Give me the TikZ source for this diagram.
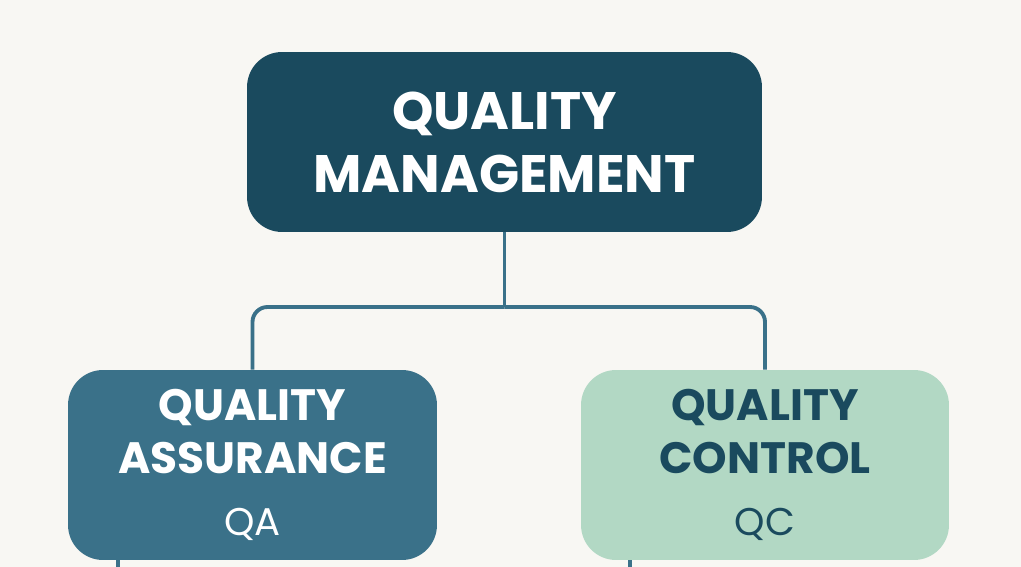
\documentclass[tikz,border=0pt]{standalone}
\usepackage{fontspec}
\setmainfont{Poppins}
\usetikzlibrary{positioning}
\definecolor{deepteal}{HTML}{1A4A5E}
\definecolor{midteal}{HTML}{3A7189}
\definecolor{mint}{HTML}{B2D8C4}
\definecolor{paper}{HTML}{F8F7F3}
\begin{document}
\begin{tikzpicture}[x=0.02cm,y=-0.02cm,
    box/.style={rounded corners=0.7cm,align=center,inner sep=0pt},
    link/.style={draw=midteal,line width=2.2pt,rounded corners=0.3cm}]

    \fill[paper] (0,0) rectangle (1021,567);
    \useasboundingbox (0,0) rectangle (1021,567);

    \node[box,fill=deepteal,text=white,minimum width=10.3cm,minimum height=3.6cm,
          font=\fontsize{30}{36}\selectfont\bfseries] (qm) at (504.5,142)
          {QUALITY\\MANAGEMENT};
    \node[box,fill=midteal,text=white,minimum width=7.38cm,minimum height=3.8cm,
          font=\fontsize{25}{30}\selectfont\bfseries] (qa) at (252.5,465)
          {QUALITY\\ASSURANCE\\[2mm]{\fontsize{22}{26}\selectfont\mdseries QA}};
    \node[box,fill=mint,text=deepteal,minimum width=7.36cm,minimum height=3.8cm,
          font=\fontsize{25}{30}\selectfont\bfseries] (qc) at (765,465)
          {QUALITY\\CONTROL\\[2mm]{\fontsize{22}{26}\selectfont\mdseries QC}};

    \coordinate (split) at (504.5,307);
    \draw[link] (qm.south) -- (split);
    \draw[link] (split) -| (qa.north);
    \draw[link] (split) -| (qc.north);
    \draw[link] (qa.south -| 118,0) -- ++(0,10);
    \draw[link] (qc.south -| 630,0) -- ++(0,10);
\end{tikzpicture}
\end{document}
